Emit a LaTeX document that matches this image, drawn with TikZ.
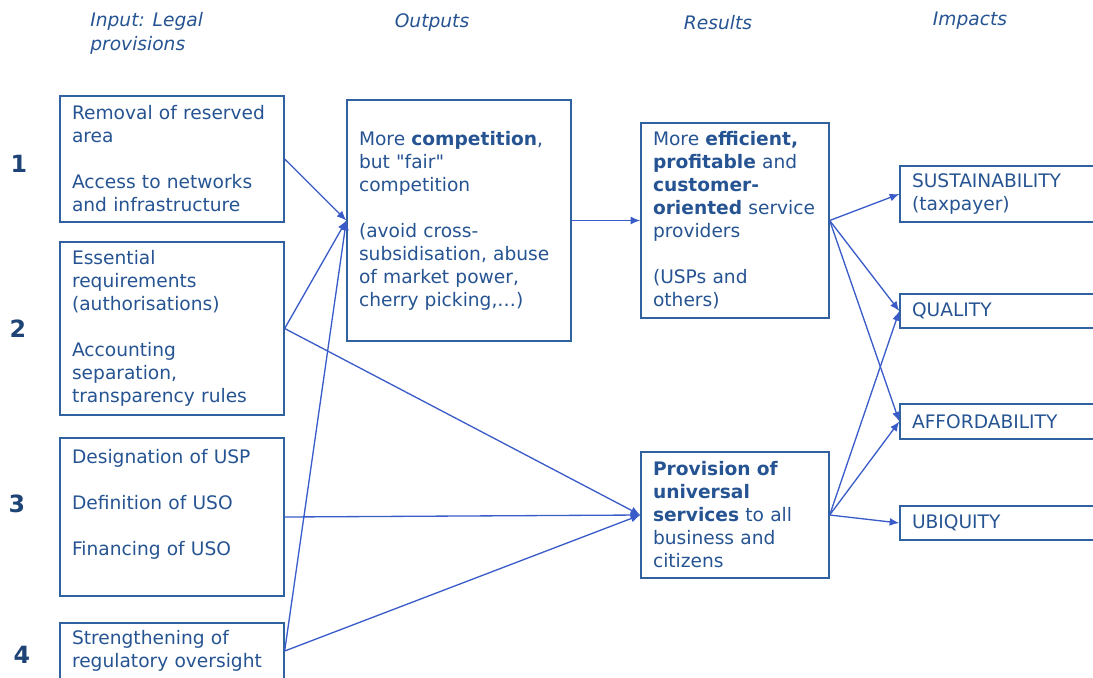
\documentclass[tikz,border=0pt]{standalone}
\usepackage{fontspec}
\setmainfont{DejaVu Sans}[Ligatures=TeXOff]
\usetikzlibrary{arrows.meta}
\definecolor{txtblue}{RGB}{38,84,146}
\definecolor{boxblue}{RGB}{48,98,160}
\definecolor{arrblue}{RGB}{58,92,200}
\tikzset{
    box/.style={draw=boxblue,line width=0.8pt,text=txtblue,align=left,inner xsep=0.24cm,
        font=\fontsize{10.6}{13.1}\selectfont},
    head/.style={text=txtblue,font=\fontsize{10.6}{13.6}\selectfont\itshape,align=left,inner sep=0pt},
    num/.style={text=txtblue!80!black,font=\fontsize{13.5}{15}\selectfont\bfseries,inner sep=0pt},
    link/.style={-{Latex[length=5.5pt,width=4.5pt]},draw=arrblue,line width=0.75pt}
}
\newcommand{\gap}{\\[13.1pt]}
\begin{document}
\begin{tikzpicture}[x=0.02cm,y=-0.02cm]
        \clip(0,0)rectangle(1093,677);
        % column heads
        \node[head,anchor=north west](hin) at (90,12){Input: Legal\\provisions};
        \node[head](hout) at (432,23){Outputs};
        \node[head](hres) at (718,23){Results};
        \node[head](himp) at (970,21){Impacts};
        % numbers
        \node[num](n1) at (19,164){1};
        \node[num](n2) at (18,329){2};
        \node[num](n3) at (17,504){3};
        \node[num](n4) at (22,655){4};
        % inputs
        \node[box,text width=4cm,minimum height=2.52cm](rem) at (172,159)
            {Removal of reserved\\area\gap Access to networks\\and infrastructure};
        \node[box,text width=4cm,minimum height=3.46cm](ess) at (172,328.5)
            {Essential\\requirements\\(authorisations)\gap Accounting\\separation,\\transparency rules};
        \node[box,text width=4cm,minimum height=3.16cm](usp) at (172,517)
            {Designation of USP\gap Definition of USO\gap Financing of USO\\[3pt]\mbox{}};
        \node[box,text width=4cm,minimum height=1.12cm](reg) at (172,651)
            {Strengthening of\\regulatory oversight};
        % outputs
        \node[box,text width=4cm,minimum height=4.82cm](comp) at (459,220.5)
            {More \textbf{competition},\\but "fair"\\competition\gap (avoid cross-\\subsidisation, abuse\\of market power,\\cherry picking,\ldots)};
        % results
        \node[box,text width=3.28cm,minimum height=3.9cm](eff) at (735,220.5)
            {More \textbf{efficient,}\\\textbf{profitable} and\\\textbf{customer-}\\\textbf{oriented} service\\providers\gap (USPs and\\others)};
        \node[box,text width=3.28cm,minimum height=2.52cm](univ) at (735,515)
            {\textbf{Provision of}\\\textbf{universal}\\\textbf{services} to all\\business and\\citizens};
        % impacts
        \node[box,text width=3.72cm,minimum height=1.12cm](sus) at (1005,194)
            {SUSTAINABILITY\\(taxpayer)};
        \node[box,text width=3.72cm,minimum height=0.68cm](qual) at (1005,311){QUALITY};
        \node[box,text width=3.72cm,minimum height=0.7cm](aff) at (1005,421.5){AFFORDABILITY};
        \node[box,text width=3.72cm,minimum height=0.68cm](ubi) at (1005,523){UBIQUITY};
        % links
        \draw[link](rem.east)--(comp.west);
        \draw[link](ess.east)--(comp.west);
        \draw[link](reg.east)--(comp.west);
        \draw[link](ess.east)--(univ.west);
        \draw[link](usp.east)--(univ.west);
        \draw[link](reg.east)--(univ.west);
        \draw[link](comp.east)--(eff.west);
        \draw[link](eff.east)--(sus.west);
        \draw[link](eff.east)--(qual.west);
        \draw[link](eff.east)--(aff.west);
        \draw[link](univ.east)--(qual.west);
        \draw[link](univ.east)--(aff.west);
        \draw[link](univ.east)--(ubi.west);
    \end{tikzpicture}
\end{document}
